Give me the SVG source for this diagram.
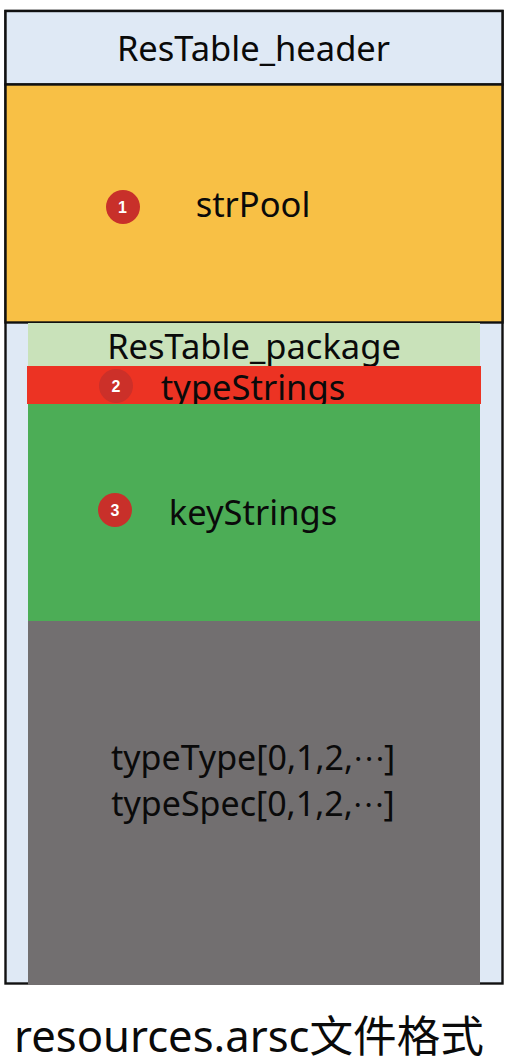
<svg xmlns="http://www.w3.org/2000/svg" width="512" height="1064" viewBox="0 0 512 1064">
<style>
text{font-family:"Noto Sans","Noto Sans CJK SC",sans-serif;fill:#0a0a0a;text-anchor:middle}
.l{font-size:34.500px}
.s{font-size:34px}
.e{font-family:"Noto Sans CJK SC",sans-serif;font-size:29px}
.box{stroke:#111;stroke-width:2.400}
.badge{fill:#c8302a}
.n{font-family:"Liberation Sans",sans-serif;font-size:16px;font-weight:bold;fill:#fff}
</style>
<rect width="512" height="1064" fill="#fff"/>
<g id="outer"><rect class="box" x="5.500" y="11" width="497" height="972.500" fill="#dfe9f5"/></g>
<g id="header"><rect class="box" x="5.500" y="11" width="497" height="73.500" fill="#dfe9f5"/><text class="l" x="253.500" y="60.500">ResTable_header</text></g>
<g id="strPool"><rect class="box" x="5.500" y="84.500" width="497" height="238" fill="#f8c045"/><circle class="badge" cx="123" cy="207" r="17"/><text class="n" x="122.500" y="213">1</text><text class="l" x="253" y="217">strPool</text></g>
<g id="package"><rect x="28" y="323" width="452" height="43" fill="#c9e2ba"/><text class="l" x="254" y="359">ResTable_package</text></g>
<g id="typeStrings"><rect x="27" y="366" width="454" height="38" fill="#ec3323"/><circle cx="116" cy="386" r="17" fill="#cc3029"/><text class="n" x="116" y="392">2</text><text class="l" x="253" y="399.500">typeStrings</text></g>
<g id="keyStrings"><rect x="28" y="404" width="452" height="217" fill="#4cad56"/><circle class="badge" cx="115" cy="510" r="17"/><text class="n" x="115" y="516">3</text><text class="l" x="253" y="525">keyStrings</text></g>
<g id="types"><rect x="28" y="621" width="452" height="364" fill="#726f70"/><text class="s" x="253" y="770">typeType[0,1,2,<tspan class="e" dy="-9">…</tspan><tspan dy="9">]</tspan></text><text class="s" x="253" y="815.500">typeSpec[0,1,2,<tspan class="e" dy="-9">…</tspan><tspan dy="9">]</tspan></text></g>
<g id="caption"><text x="249" y="1052" font-size="43.600">resources.arsc文件格式</text></g>
</svg>
